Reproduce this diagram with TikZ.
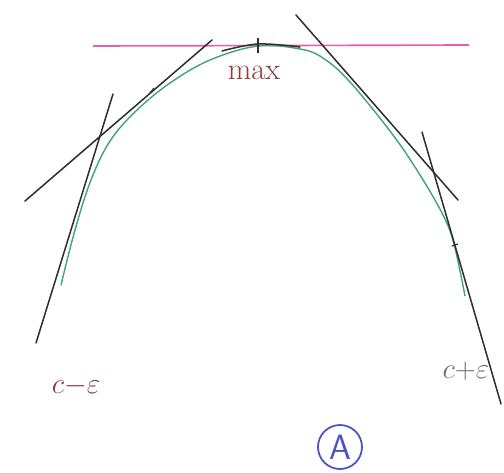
\documentclass[tikz,border=0pt]{standalone}
\usepackage{amsmath}
\usepackage{amssymb}
\usepackage{tikz}

\definecolor{sketchpink}{HTML}{EC5E9E}
\definecolor{sketchgreen}{HTML}{3DA57C}
\definecolor{sketchbrown}{HTML}{8E3B3B}
\definecolor{sketchblue}{HTML}{4A52C2}
\definecolor{sketchgrey}{HTML}{2F2F2F}

\begin{document}
\begin{tikzpicture}[x=0.03cm, y=-0.03cm,
    tangent/.style={sketchgrey, line width=1.3pt, line cap=round},
    tick/.style={sketchgrey, line width=1pt},
    lbl/.style={sketchbrown, inner sep=0pt}]

  % Frame: pixel grid of the sketch, y downwards
  \useasboundingbox (0,0) rectangle (504,472);

  % --- Level of the maximum ---
  \coordinate (hl) at (93,46);
  \coordinate (hr) at (469,45);
  \draw[sketchpink, line width=1.4pt] (hl) -- (hr);

  % --- The curve (green) ---
  \draw[sketchgreen, line width=1.2pt] plot[smooth, tension=0.6] coordinates
    {(61,285) (75,230) (91,180) (110,141) (136,111) (170,83) (210,60) (258,46)
     (300,49) (323,58) (350,82) (393,135) (420,175) (443,215) (454,244) (465,296)};

  % black trace over the top of the curve
  \draw[tangent] plot[smooth, tension=0.6] coordinates
    {(222,51) (258,44) (300,47)};

  % --- Tangents on the left ---
  % steep one, near c-epsilon
  \coordinate (l1a) at (36,343);
  \coordinate (l1b) at (113,94);
  \draw[tangent] (l1a) -- (l1b);
  % flatter one, towards the top
  \coordinate (l2a) at (25,201);
  \coordinate (l2b) at (212,40);
  \draw[tangent] (l2a) -- (l2b);

  % --- Tangents on the right ---
  % flatter one, from the top
  \coordinate (r1a) at (296,15);
  \coordinate (r1b) at (458,200);
  \draw[tangent] (r1a) -- (r1b);
  % steep one, near c+epsilon
  \coordinate (r2a) at (422,132);
  \coordinate (r2b) at (501,404);
  \draw[tangent] (r2a) -- (r2b);

  % --- Small ticks ---
  \draw[tick] (258,38) -- (258,53);
  \draw[tick] (150,93) -- (154,88);
  \draw[tick] (452,246) -- (458,244);

  % --- Labels ---
  \node[lbl] (mx) at (254,73) {\fontsize{26}{28}\selectfont max};
  \node[lbl] (cm) at (76,386) {\fontsize{40}{42}\selectfont $c{-}\varepsilon$};
  \node[lbl, text=sketchgrey!70] (cp) at (466,371) {\fontsize{30}{32}\selectfont $c{+}\varepsilon$};

  % circled A
  \node[draw=sketchblue, text=sketchblue, circle, line width=1.5pt,
        minimum size=1.32cm, inner sep=0pt, font=\sffamily\fontsize{30}{32}\selectfont]
        (circA) at (340,447) {A};

\end{tikzpicture}
\end{document}
